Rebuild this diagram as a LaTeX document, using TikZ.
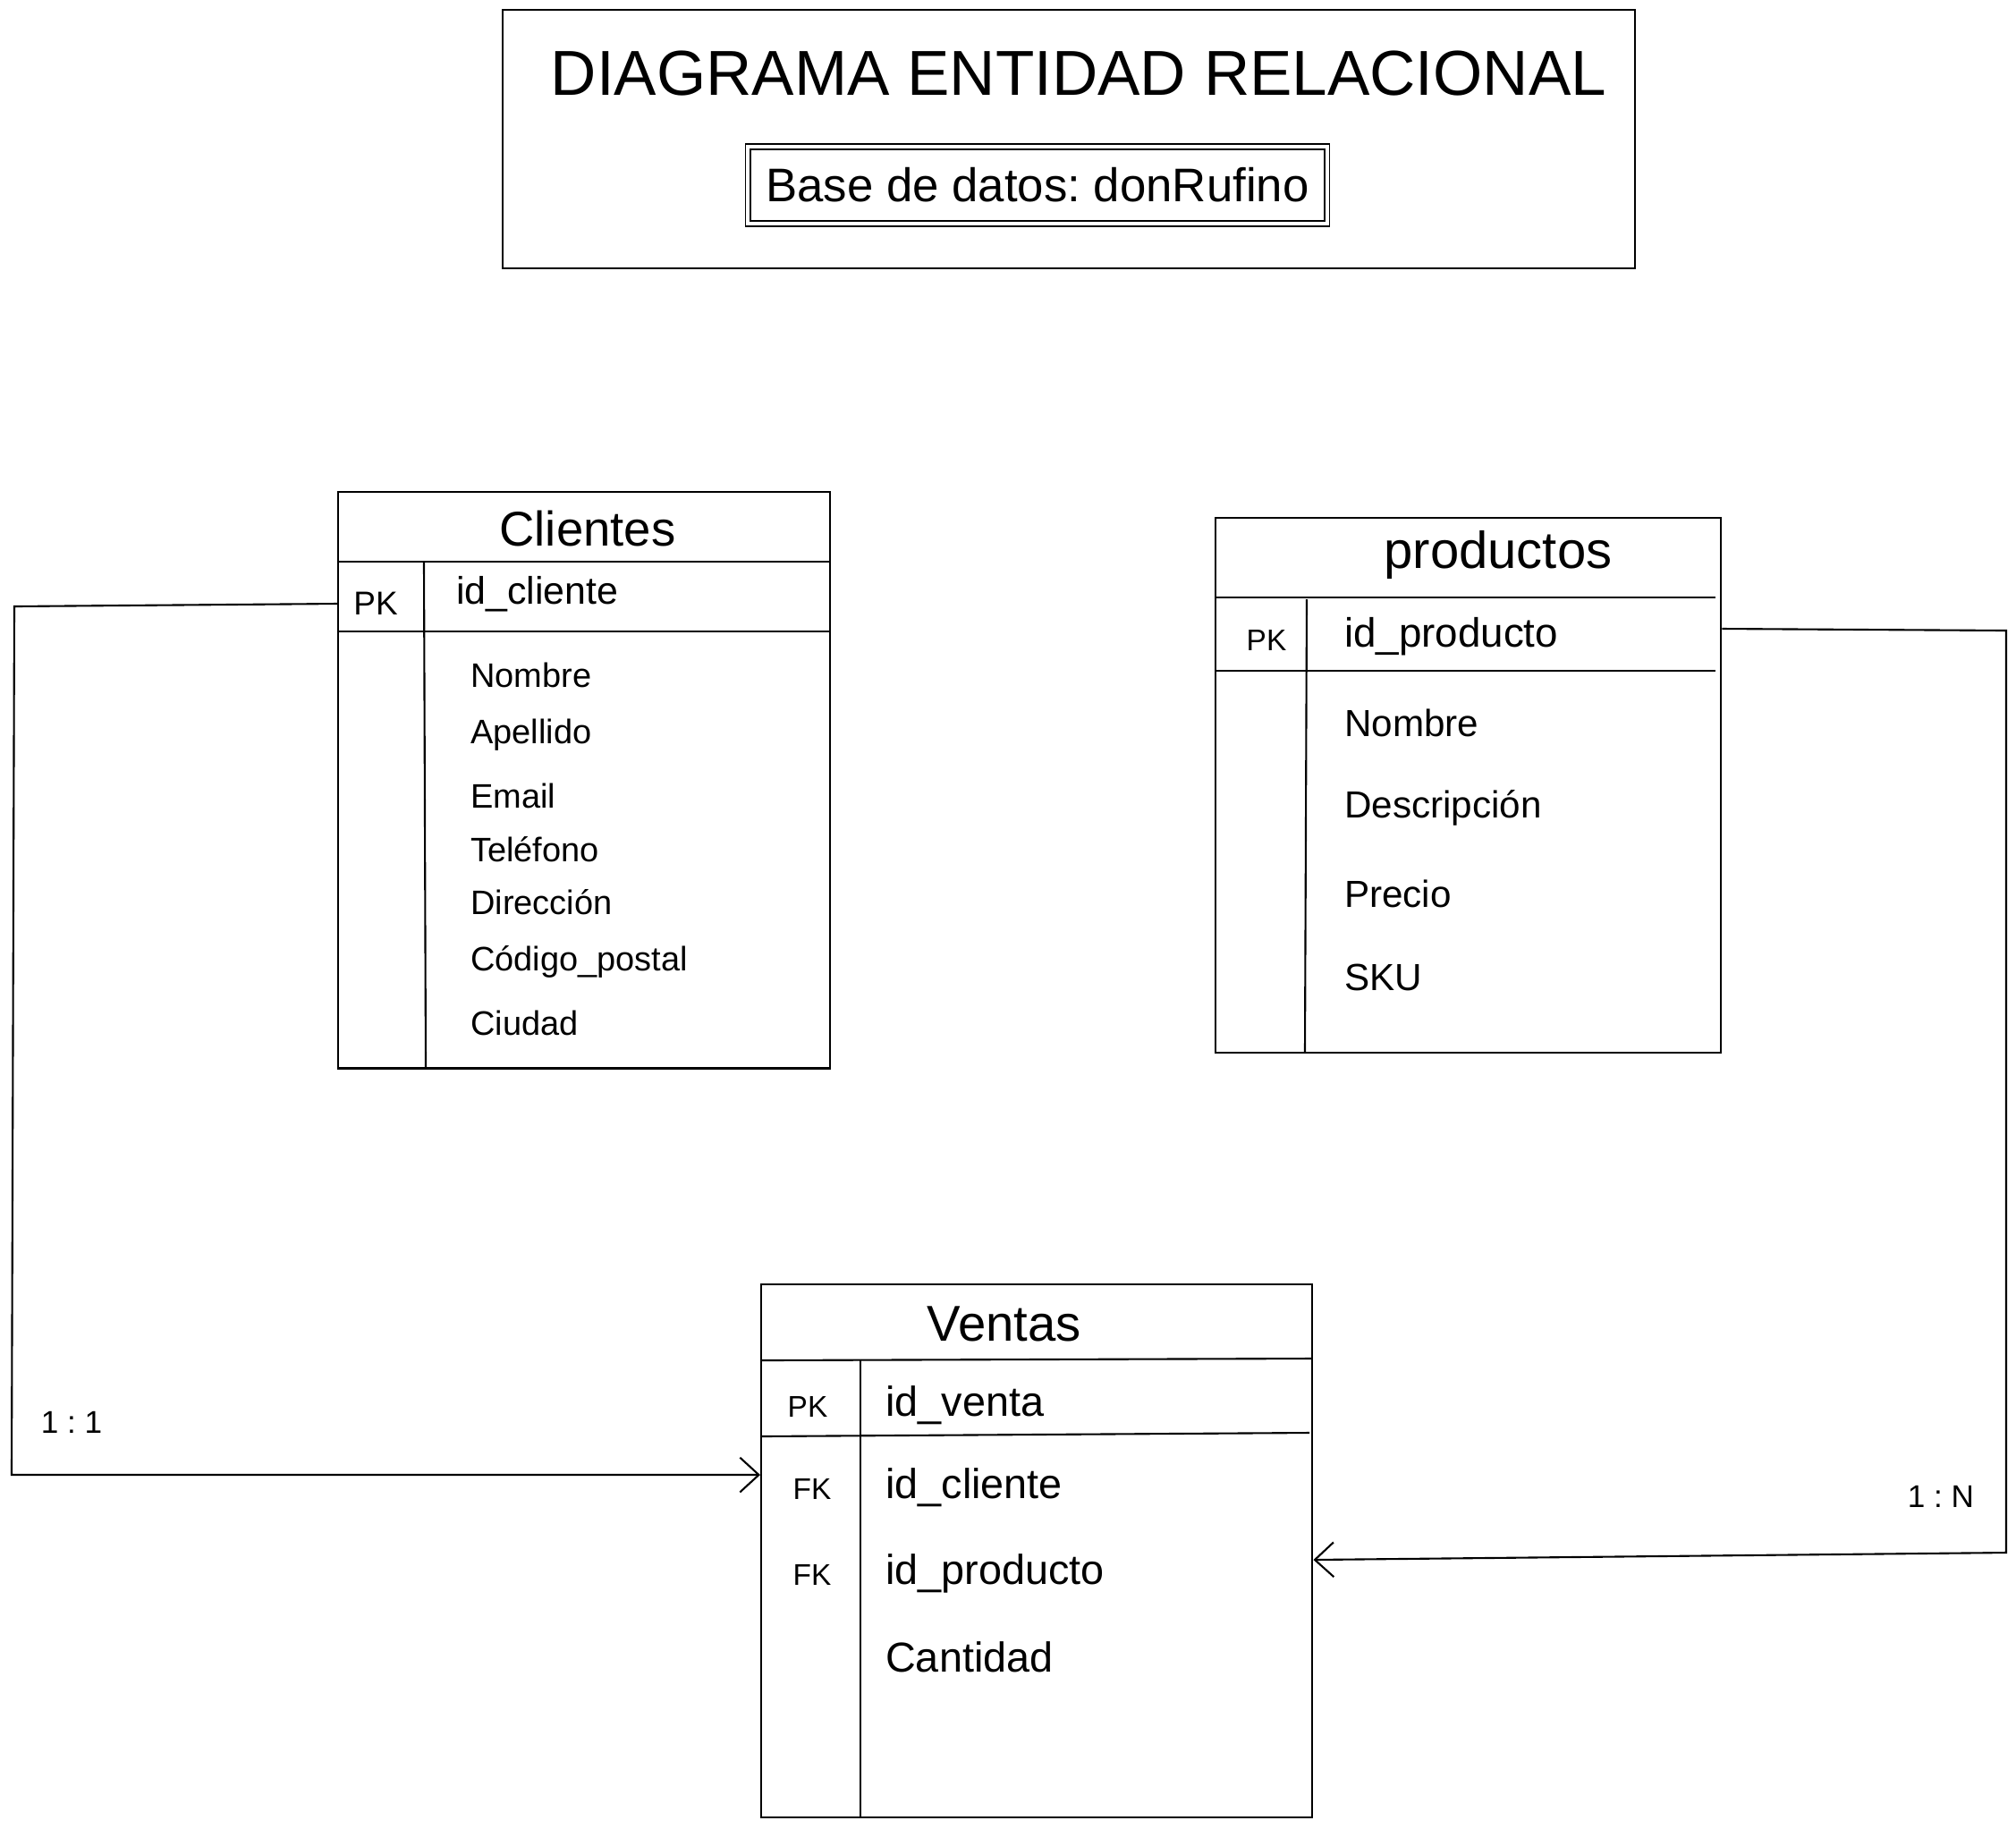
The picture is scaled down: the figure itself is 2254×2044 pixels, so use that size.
\documentclass[tikz,border=0pt]{standalone}
\usepackage{fontspec}
\setmainfont{Liberation Sans}
\frenchspacing
\usetikzlibrary{arrows.meta,positioning,calc}
\tikzset{
  er_box/.style={rectangle,draw=black,line width=0.6pt,anchor=north west,inner sep=0pt},
  er_sub/.style={rectangle,draw=black,double,double distance=1.1pt,line width=0.5pt,
    inner sep=0pt,font=\fontsize{15}{18}\selectfont},
  er_head/.style={font=\fontsize{15.5}{18}\selectfont,inner sep=1pt},
  er_key/.style={font=\fontsize{9.5}{11}\selectfont,inner sep=1pt},
  er_attr/.style={anchor=west,inner sep=1pt},
  er_line/.style={draw=black,line width=0.6pt},
  rel/.style={-{Straight Barb[length=6pt,width=11pt]},line width=0.6pt,draw=black},
  card/.style={font=\fontsize{10}{12}\selectfont,inner sep=1pt},
}
\begin{document}
\begin{tikzpicture}[x=0.01cm,y=-0.01cm]
  \useasboundingbox (0,0) rectangle (2254,2044);
  % title
  \node (ttl) [er_box,minimum width=12.65cm,minimum height=2.89cm] at (561,10) {};
  \node (ttltxt) [font=\fontsize{20.2}{24}\selectfont] at (1206,82) {DIAGRAMA ENTIDAD RELACIONAL};
  \node (sub) [er_sub,minimum width=6.47cm,minimum height=0.86cm] at (1160,207) {Base de datos: donRufino};
  % Clientes
  \node (cli) [er_box,minimum width=5.5cm,minimum height=6.44cm] at (377,549) {};
  \draw[er_line] (377,628) -- (927,628); \draw[er_line] (377,706) -- (927,706);
  \draw[er_line] (474,628) -- (476,1193);
  \node (clit) [er_head] at (657,591) {Clientes};
  \node (cpk) [er_key,font=\fontsize{10.5}{12}\selectfont] at (420,675) {PK};
  \node (cid) [er_attr,font=\fontsize{12.2}{14}\selectfont] at (506,664) {id\_cliente};
  \foreach \t/\y [count=\i] in {Nombre/755,Apellido/822,Email/890,Teléfono/950,
      Dirección/1009,Código\_postal/1075,Ciudad/1144}
    \node (ca\i) [er_attr,font=\fontsize{10.8}{13}\selectfont] at (522,\y) {\t};
  % productos
  \node (pro) [er_box,minimum width=5.65cm,minimum height=5.98cm] at (1358,578) {};
  \draw[er_line] (1360,668) -- (1918,668); \draw[er_line] (1358,750) -- (1918,750);
  \draw[er_line] (1461,670) -- (1459,1176);
  \node (prot) [er_head,font=\fontsize{16.5}{19}\selectfont] at (1675,620) {productos};
  \node (ppk) [er_key] at (1416,716) {PK};
  \node (pid) [er_attr,font=\fontsize{13}{15}\selectfont] at (1499,712) {id\_producto};
  \foreach \t/\y [count=\i] in {Nombre/808,Descripción/903,Precio/999,SKU/1093}
    \node (pa\i) [er_attr,font=\fontsize{12}{14}\selectfont] at (1499,\y) {\t};
  % Ventas
  \node (ven) [er_box,minimum width=6.16cm,minimum height=5.96cm] at (850,1435) {};
  \draw[er_line] (850,1521) -- (1466,1519); \draw[er_line] (850,1606) -- (1464,1602);
  \draw[er_line] (962,1521) -- (962,2031);
  \node (vent) [er_head,font=\fontsize{16}{19}\selectfont] at (1123,1480) {Ventas};
  \node (vpk) [er_key] at (903,1573) {PK};
  \node (vid) [er_attr,font=\fontsize{13.3}{16}\selectfont] at (986,1571) {id\_venta};
  \node (vfk1) [er_key] at (908,1665) {FK};
  \node (vcl) [er_attr,font=\fontsize{13.3}{16}\selectfont] at (986,1663) {id\_cliente};
  \node (vfk2) [er_key] at (908,1761) {FK};
  \node (vpr) [er_attr,font=\fontsize{13.3}{16}\selectfont] at (986,1759) {id\_producto};
  \node (vca) [er_attr,font=\fontsize{13.3}{16}\selectfont] at (986,1853) {Cantidad};
  % relations
  \draw[rel] (cli.west |- cpk) -- (16,678) -- (13,1649) -- (ven.west |- 0,1649);
  \draw[rel] (pro.east |- 0,703) -- (2243,705) -- (2243,1736) -- (ven.east |- 0,1744);
  \node (c11) [card] at (80,1590) {1 : 1};
  \node (c1n) [card] at (2170,1673) {1 : N};
\end{tikzpicture}
\end{document}
